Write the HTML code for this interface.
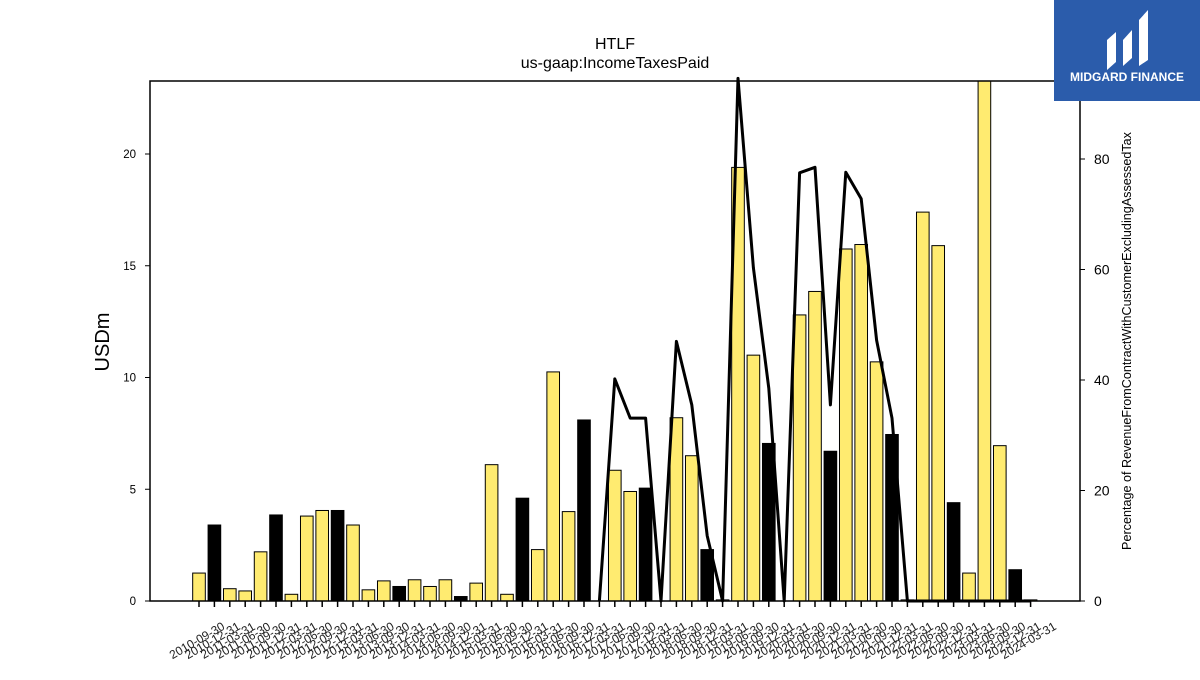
<!DOCTYPE html>
<html><head><meta charset="utf-8"><style>
body{margin:0;background:#fff;width:1200px;height:675px;overflow:hidden;font-family:"Liberation Sans",sans-serif}
</style></head><body>
<svg id="chart" width="1200" height="675" xmlns="http://www.w3.org/2000/svg" font-family="Liberation Sans, DejaVu Sans, sans-serif">
<text x="615" y="49" text-anchor="middle" font-size="16">HTLF</text>
<text x="615" y="68" text-anchor="middle" font-size="16">us-gaap:IncomeTaxesPaid</text>
<text transform="translate(109,342) rotate(-90)" text-anchor="middle" font-size="20">USDm</text>
<text transform="translate(1131,341) rotate(-90)" text-anchor="middle" font-size="12.6">Percentage of RevenueFromContractWithCustomerExcludingAssessedTax</text>
<g id="bars"></g><g id="line"></g><g id="axes"></g>
<rect x="150" y="81" width="930" height="520" fill="none" stroke="#000" stroke-width="1.5"/>
<g>
<rect x="1054" y="0" width="146" height="101" fill="#2b5cab"/>
<path d="M1107 70 L1107 40 L1116 32 L1116 62 Z M1123 66 L1123 40 L1132 30 L1132 58 Z M1139 66 L1139 20 L1148 10 L1148 60 Z" fill="#fff"/>
<text x="1127" y="81" text-anchor="middle" font-size="12" font-weight="bold" fill="#fff">MIDGARD FINANCE</text>
</g>
</svg>
<script>
const categories=["2010-09-30","2010-12-31","2011-03-31","2011-06-30","2011-09-30","2011-12-31","2012-03-31","2012-06-30","2012-09-30","2012-12-31","2013-03-31","2013-06-30","2013-09-30","2013-12-31","2014-03-31","2014-06-30","2014-09-30","2014-12-31","2015-03-31","2015-06-30","2015-09-30","2015-12-31","2016-03-31","2016-06-30","2016-09-30","2016-12-31","2017-03-31","2017-06-30","2017-09-30","2017-12-31","2018-03-31","2018-06-30","2018-09-30","2018-12-31","2019-03-31","2019-06-30","2019-09-30","2019-12-31","2020-03-31","2020-06-30","2020-09-30","2020-12-31","2021-03-31","2021-06-30","2021-09-30","2021-12-31","2022-03-31","2022-06-30","2022-09-30","2022-12-31","2023-03-31","2023-06-30","2023-09-30","2023-12-31","2024-03-31"];
const taxValues=[1.25,3.4,0.55,0.45,2.2,3.85,0.3,3.8,4.05,4.05,3.4,0.5,0.9,0.65,0.95,0.65,0.95,0.2,0.8,6.1,0.3,4.6,2.3,10.25,4.0,8.1,0,5.85,4.9,5.05,0,8.2,6.5,2.3,0.05,19.4,11.0,7.05,0,12.8,13.85,6.7,15.75,15.95,10.7,7.45,0.05,17.4,15.9,4.4,1.25,25,6.95,1.4,0.05];
const isYearEnd=[0,1,0,0,0,1,0,0,0,1,0,0,0,1,0,0,0,1,0,0,0,1,0,0,0,1,0,0,0,1,0,0,0,1,0,0,0,1,0,0,0,1,0,0,0,1,0,0,0,1,0,0,0,1,0];
const pctValues=[null,null,null,null,null,null,null,null,null,null,null,null,null,null,null,null,null,null,null,null,null,null,null,null,null,null,0,40.2,33.1,33.1,0,47,35.5,11.8,0,94.6,60.3,38.5,0,77.5,78.5,35.5,77.6,72.8,47.2,33.1,0,0,0,0,0,0,0,0,0];
const yTicks=[0,5,10,15,20];
const y2Ticks=[0,20,40,60,80];
const NS="http://www.w3.org/2000/svg";
const L=150,R=1080,T=81,B=601;
const step=15.4, x0=199;
const xS=i=>x0+step*i;
const yS=v=>B-v*22.35;
const y2S=v=>B-v*5.525;
function mk(tag,attrs,parent){const e=document.createElementNS(NS,tag);for(const k in attrs)e.setAttribute(k,attrs[k]);parent.appendChild(e);return e;}
const gb=document.getElementById('bars'),gl=document.getElementById('line'),ga=document.getElementById('axes');
const bw=step*0.82;
taxValues.forEach((v,i)=>{
  const top=Math.max(yS(v),T);
  const r=mk('rect',{x:xS(i)-bw/2,y:top,width:bw,height:Math.max(B-top,0),fill:isYearEnd[i]?'#000':'#ffeb70',stroke:'#000','stroke-width':1},gb);
  
  
});
let d='';
pctValues.forEach((v,i)=>{if(v===null)return;d+=(d?'L':'M')+xS(i)+' '+Math.max(y2S(v),T-3)+' ';});
const p=mk('path',{d:d,fill:'none',stroke:'#000','stroke-width':3,'stroke-linejoin':'round'},gl);


yTicks.forEach(t=>{
  const y=yS(t);
  mk('line',{x1:L-5,x2:L,y1:y,y2:y,stroke:'#000'},ga);
  const tx=mk('text',{x:L-14,y:y+4,'text-anchor':'end','font-size':11.5},ga);tx.textContent=t;
  
  
});
y2Ticks.forEach(t=>{
  const y=y2S(t);
  mk('line',{x1:R,x2:R+5,y1:y,y2:y,stroke:'#000'},ga);
  const tx=mk('text',{x:R+14,y:y+5,'font-size':14},ga);tx.textContent=t;
  
  
});
categories.forEach((c,i)=>{
  const x=xS(i);
  mk('line',{x1:x,x2:x,y1:B,y2:B+6,stroke:'#000','stroke-width':1.5},ga);
  const tx=mk('text',{transform:'translate('+x+',644) rotate(-30)','text-anchor':'middle','font-size':12,fill:'#222'},ga);tx.textContent=c;
  
  
});
</script>
</body></html>
